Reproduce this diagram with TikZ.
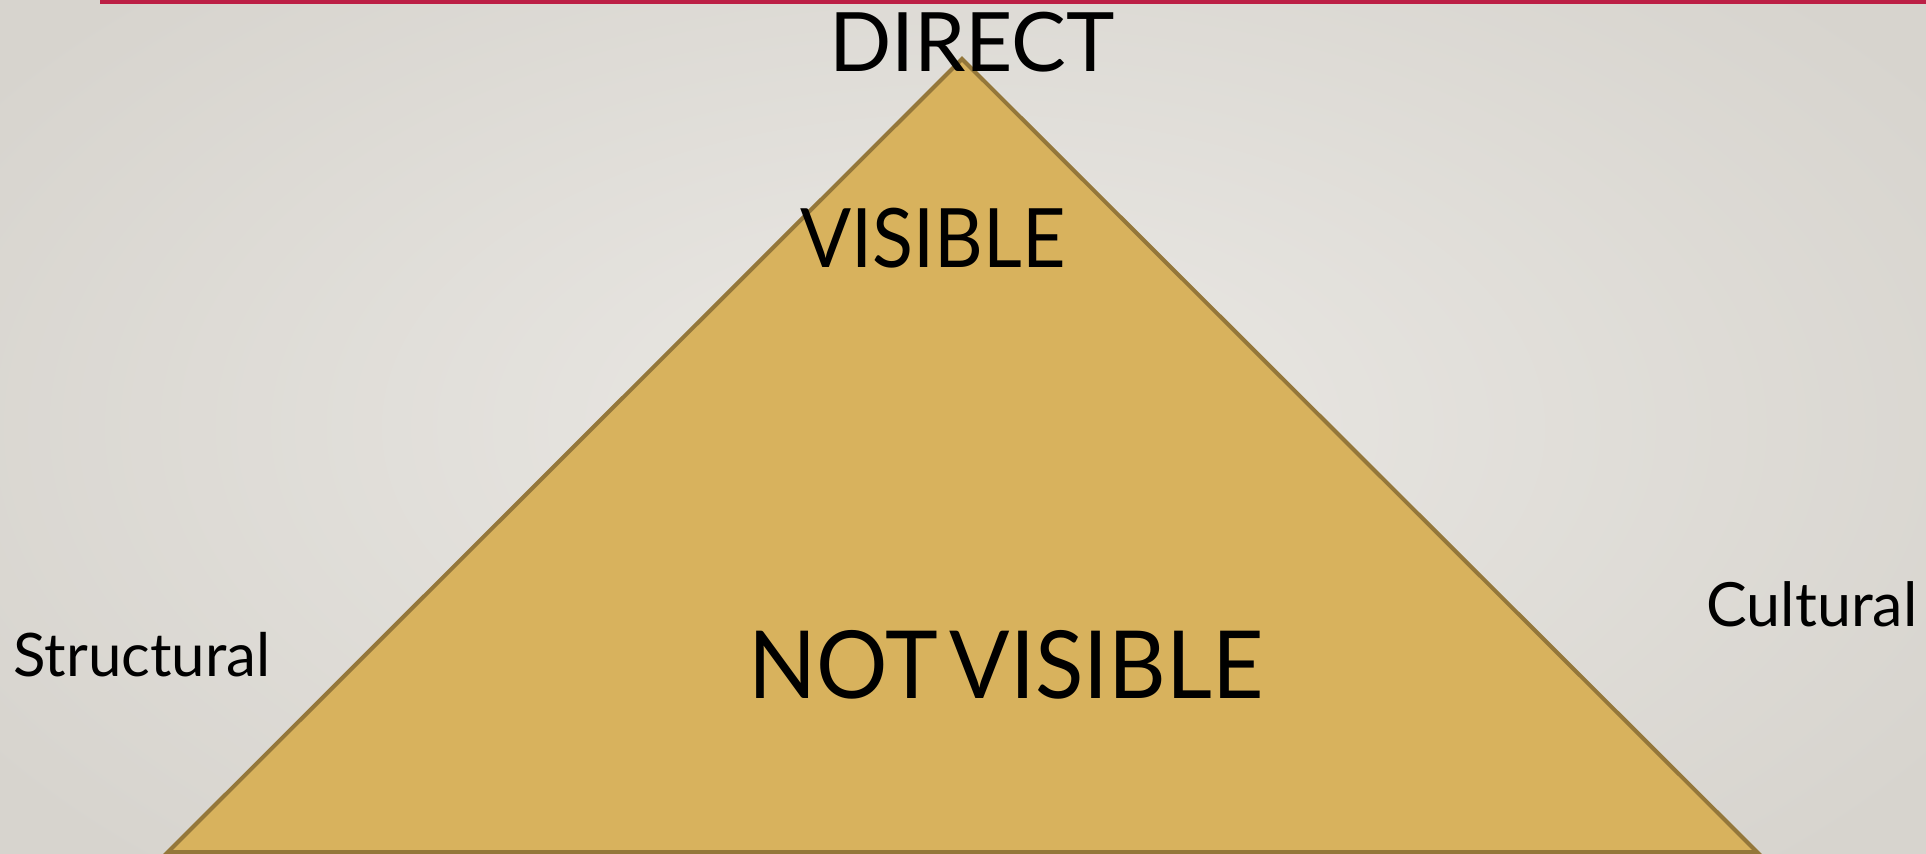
\documentclass[tikz,border=0pt]{standalone}
\usepackage{fontspec}
\setmainfont{Lato}
\definecolor{bgin}{HTML}{EBE9E5}
\definecolor{bgout}{HTML}{D7D4CE}
\definecolor{barred}{HTML}{BC1F45}
\definecolor{trifill}{HTML}{D8B25D}
\definecolor{tridraw}{HTML}{94773A}
\tikzset{
  lbl/.style={anchor=base, inner sep=0pt, text=black},
}
\begin{document}
\begin{tikzpicture}[x=0.5pt,y=-0.5pt]
\useasboundingbox (0,0) rectangle (1926,854);
\shade[inner color=bgin, outer color=bgout] (-200,-200) rectangle (2126,1054);
\fill[barred] (100,0) rectangle (1926,4.5);
\coordinate (apex) at (962,59);
\coordinate (bl) at (168,852);
\coordinate (br) at (1757,852);
\filldraw[fill=trifill, draw=tridraw, line width=2pt, line join=miter] (apex) -- (br) -- (bl) -- cycle;
\node[lbl, font=\fontsize{41}{41}\selectfont] (direct) at (972,72) {DIRECT};
\node[lbl, font=\fontsize{41}{41}\selectfont\addfontfeatures{FakeStretch=0.92}] (visible) at (933,268) {VISIBLE};
\node[lbl, font=\fontsize{47}{47}\selectfont\addfontfeatures{FakeStretch=0.95}] (notvisible) at (1006,698) {NOT\hspace{-0.12em} VISIBLE};
\node[lbl, font=\fontsize{30}{30}\selectfont] (structural) at (142,676) {Structural};
\node[lbl, font=\fontsize{30.5}{30.5}\selectfont] (cultural) at (1812,627) {Cultural};
\end{tikzpicture}
\end{document}
